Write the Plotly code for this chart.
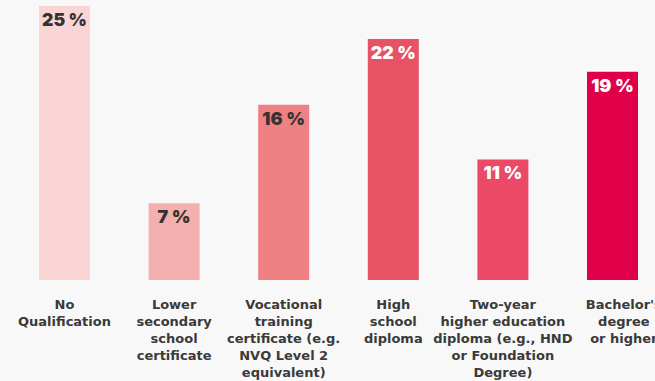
import plotly.graph_objects as go

# Highest level of qualification, share of respondents (%)
categories = [
    "No<br>Qualification",
    "Lower<br>secondary<br>school<br>certificate",
    "Vocational<br>training<br>certificate (e.g.<br>NVQ Level 2<br>equivalent)",
    "High<br>school<br>diploma",
    "Two-year<br>higher education<br>diploma (e.g., HND<br>or Foundation<br>Degree)",
    "Bachelor's<br>degree<br>or higher",
]
shares = [25, 7, 16, 22, 11, 19]
bar_colors = ["#f9d6d5", "#f4b0ae", "#ef8184", "#e75264", "#ea4a66", "#e0004a"]
label_colors = ["#333333", "#333333", "#333333", "#ffffff", "#ffffff", "#ffffff"]

W, H = 655, 381
plot_h = 280
px_per_unit = 10.96
slot_px = 109.6
first_center_px = 64.5

# the last label runs off the right edge; pad its lines so it sits right of the bar centre
pad = "\u00a0" * 5
tick_text = categories[:-1] + ["<br>".join(pad + line for line in categories[-1].split("<br>"))]

fig = go.Figure(
    go.Bar(
        x=list(range(len(categories))),
        y=shares,
        marker=dict(color=bar_colors, line=dict(width=0)),
        width=51 / slot_px,
        text=[f"{v} %" for v in shares],
        textposition="inside",
        insidetextanchor="end",
        textangle=0,
        textfont=dict(family="Inter", size=18, weight=900, color=label_colors),
        cliponaxis=False,
        hoverinfo="skip",
    )
)

x0 = -first_center_px / slot_px
fig.update_layout(
    width=W,
    height=H,
    margin=dict(l=0, r=0, t=0, b=H - plot_h, autoexpand=False),
    paper_bgcolor="#f8f8f8",
    plot_bgcolor="#f8f8f8",
    showlegend=False,
    uniformtext=dict(mode=False),
    xaxis=dict(
        range=[x0, x0 + W / slot_px],
        tickmode="array",
        tickvals=list(range(len(categories))),
        ticktext=tick_text,
        tickangle=0,
        showgrid=False,
        zeroline=False,
        showline=False,
        ticks="",
        automargin=False,
        ticklabelstandoff=15,
        ticklabeloverflow="allow",
        tickfont=dict(family="DejaVu Sans", size=13, weight=700, color="#3a3a3a"),
    ),
    yaxis=dict(
        range=[0, plot_h / px_per_unit],
        visible=False,
        automargin=False,
        showgrid=False,
        zeroline=False,
    ),
)

# clip the overflowing label at the figure edge instead of widening the page
clip_js = """
var gd = document.getElementById('{plot_id}');
document.documentElement.style.overflow = 'hidden';
document.body.style.overflow = 'hidden';
document.body.style.margin = '0';
gd.style.overflow = 'hidden';
gd.querySelectorAll('.svg-container, .main-svg').forEach(function (el) {
    el.style.overflow = 'hidden';
});
"""

fig.write_html("out.html", post_script=clip_js)
